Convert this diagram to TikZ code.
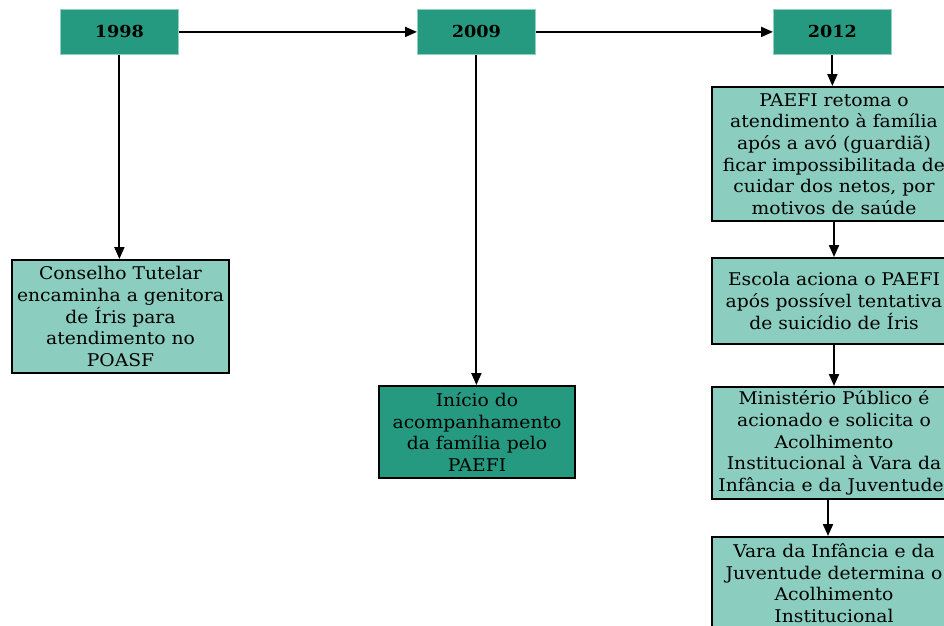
\documentclass[tikz,border=0pt]{standalone}
\usepackage{fontspec}
\setmainfont{DejaVu Serif}[FakeStretch=1.07]
\usetikzlibrary{arrows.meta}
\definecolor{hdr}{HTML}{269A80}
\definecolor{hdrline}{HTML}{8FD0C0}
\definecolor{lite}{HTML}{8BCEBF}
\definecolor{dark}{HTML}{269A80}
\tikzset{
  year/.style={draw=hdrline, line width=0.8pt, fill=hdr, anchor=north west, inner sep=0pt,
    minimum width=118pt, minimum height=45pt, font=\fontsize{16.5}{19}\selectfont\bfseries},
  event/.style={draw=black, line width=2pt, fill=lite, anchor=north west, inner sep=0pt,
    align=center, font=\fontsize{17.5}{21.7}\selectfont},
  conn/.style={line width=2pt, -{Triangle[length=12pt,width=10pt]}}
}
\begin{document}
\begin{tikzpicture}[x=1pt,y=-1pt]
\useasboundingbox (0,0) rectangle (944,625);
\clip (0,0) rectangle (944,625);
\node[year] (y1) at (60,9) {1998};
\node[year] (y2) at (417,9) {2009};
\node[year] (y3) at (773,9) {2012};
\node[event, minimum width=217pt, minimum height=113pt] (cons) at (11,259)
  {Conselho Tutelar\\encaminha a genitora\\de Íris para\\atendimento no\\POASF};
\node[event, fill=dark, minimum width=196pt, minimum height=92pt] (ini) at (378,385)
  {Início do\\acompanhamento\\da família pelo\\PAEFI};
\node[event, minimum width=244pt, minimum height=134pt] (pae) at (711,86)
  {PAEFI retoma o\\atendimento à família\\após a avó (guardiã)\\ficar impossibilitada de\\cuidar dos netos, por\\motivos de saúde};
\node[event, minimum width=244pt, minimum height=86pt] (esc) at (711,257)
  {Escola aciona o PAEFI\\após possível tentativa\\de suicídio de Íris};
\node[event, minimum width=244pt, minimum height=112pt] (min) at (711,386)
  {Ministério Público é\\acionado e solicita o\\Acolhimento\\Institucional à Vara da\\Infância e da Juventude.};
\node[event, minimum width=244pt, minimum height=92pt] (var) at (711,536)
  {Vara da Infância e da\\Juventude determina o\\Acolhimento\\Institucional};
\draw[conn] (y1) -- (y2);
\draw[conn] (y2) -- (y3);
\draw[conn] (y1.south) -- (y1.south |- cons.north);
\draw[conn] (y2.south) -- (y2.south |- ini.north);
\draw[conn] (y3.south) -- (y3.south |- pae.north);
\draw[conn] (pae.south) -- (esc.north);
\draw[conn] (esc.south) -- (min.north);
\draw[conn] ([xshift=-6pt]min.south) -- ([xshift=-6pt]var.north);
\end{tikzpicture}
\end{document}
